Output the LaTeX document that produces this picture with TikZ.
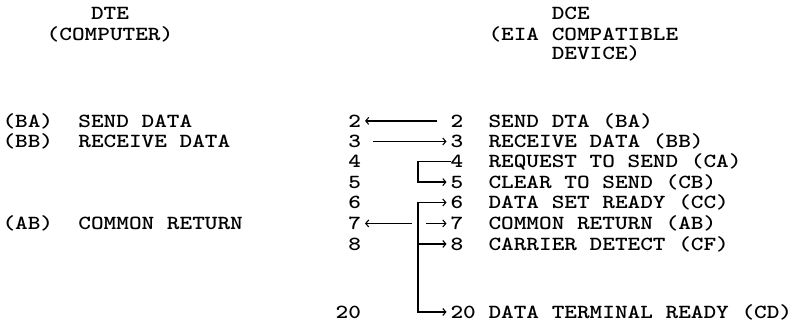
\documentclass[tikz,border=0pt]{standalone}
\usepackage{graphicx}
\usetikzlibrary{arrows.meta}
\newcommand{\tw}[1]{\scalebox{1.2048}[1]{\fontsize{20}{20}\selectfont\ttfamily\bfseries #1}}
\tikzset{
  txt/.style={inner sep=0pt, outer sep=0pt},
  lbl/.style={txt, anchor=base west},
  lnum/.style={txt, anchor=base east},
  rnum/.style={txt, anchor=base west},
  hdr/.style={txt, anchor=base},
  wire/.style={line width=1.6pt, >={Straight Barb[length=3pt,width=7pt,line width=1.1pt]}},
}
\begin{document}
\begin{tikzpicture}[x=1pt,y=-1pt]
\useasboundingbox (0,0) rectangle (796,323);
% headers
\node[hdr] (dte) at (110,19.1) {\tw{DTE}};
\node[hdr] (comp) at (110,40.6) {\tw{(COMPUTER)}};
\node[lbl] (dce) at (551.75,19.1) {\tw{DCE}};
\node[lbl] (eia) at (488.5,40.6) {\tw{(EIA COMPATIBLE}};
\node[lbl] (dev) at (551.75,59.7) {\tw{DEVICE)}};
% left labels
\node[lbl] (ba) at (2.5,127.1) {\tw{(BA)\ \ SEND DATA}};
\node[lbl] (bb) at (2.5,147.6) {\tw{(BB)\ \ RECEIVE DATA}};
\node[lbl] (ab) at (2.5,229.6) {\tw{(AB)\ \ COMMON RETURN}};
% left numbers
\node[lnum] (l2) at (361,127.1) {\tw{2}};
\node[lnum] (l3) at (361,147.6) {\tw{3}};
\node[lnum] (l4) at (361,167.6) {\tw{4}};
\node[lnum] (l5) at (361,188.1) {\tw{5}};
\node[lnum] (l6) at (361,208.6) {\tw{6}};
\node[lnum] (l7) at (361,229.6) {\tw{7}};
\node[lnum] (l8) at (361,250.1) {\tw{8}};
\node[lnum] (l20) at (361,318.1) {\tw{20}};
% right numbers
\node[rnum] (r2) at (450.5,127.1) {\tw{2}};
\node[rnum] (r3) at (450.5,147.6) {\tw{3}};
\node[rnum] (r4) at (450.5,167.6) {\tw{4}};
\node[rnum] (r5) at (450.5,188.1) {\tw{5}};
\node[rnum] (r6) at (450.5,208.6) {\tw{6}};
\node[rnum] (r7) at (450.5,229.6) {\tw{7}};
\node[rnum] (r8) at (450.5,250.1) {\tw{8}};
\node[rnum] (r20) at (450.5,318.1) {\tw{20}};
% right labels
\node[lbl] (t2) at (488.5,127.1) {\tw{SEND DTA (BA)}};
\node[lbl] (t3) at (488.5,147.6) {\tw{RECEIVE DATA (BB)}};
\node[lbl] (t4) at (488.5,167.6) {\tw{REQUEST TO SEND (CA)}};
\node[lbl] (t5) at (488.5,188.1) {\tw{CLEAR TO SEND (CB)}};
\node[lbl] (t6) at (488.5,208.6) {\tw{DATA SET READY (CC)}};
\node[lbl] (t7) at (488.5,229.6) {\tw{COMMON RETURN (AB)}};
\node[lbl] (t8) at (488.5,250.1) {\tw{CARRIER DETECT (CF)}};
\node[lbl] (t20) at (488.5,318.1) {\tw{DATA TERMINAL READY (CD)}};
% helper x positions
\coordinate (bx) at (418,0);
\coordinate (ga) at (412,0);
\coordinate (gb) at (426,0);
% connectors
\draw[wire,->,shorten <=13.5pt,shorten >=4pt] (r2.west) -- (l2.east);
\draw[wire,->,shorten <=12pt,shorten >=4pt] (l3.east) -- (r3.west);
\draw[wire,->,shorten >=4pt] (r4.west) -- (r4.west -| bx) |- (r5.west);
\draw[wire,<->,shorten <=4pt,shorten >=4pt] (r6.west) -| (r20.west -| bx) -- (r20.west);
\draw[wire,->,shorten >=4pt] (r8.west -| bx) -- (r8.west);
\draw[wire,<-,shorten <=4pt] (l7.east) -- (l7.east -| ga);
\draw[wire,->,shorten >=4pt] (r7.west -| gb) -- (r7.west);
\end{tikzpicture}
\end{document}
